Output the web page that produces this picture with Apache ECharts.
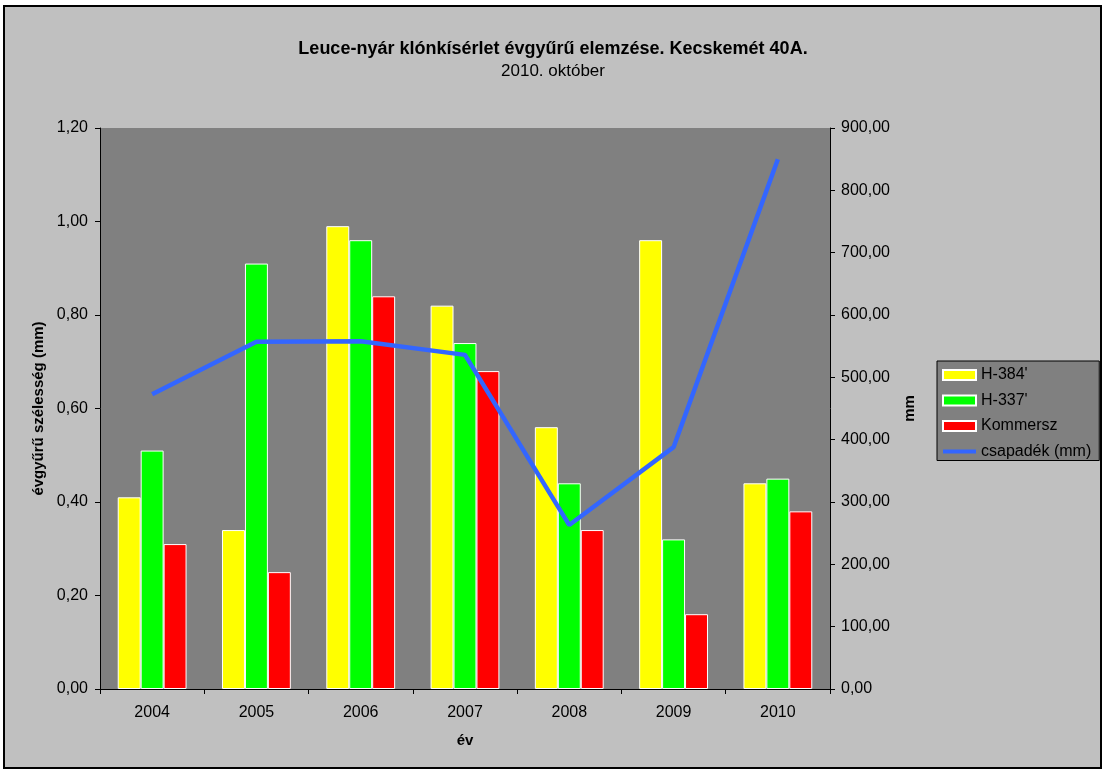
<!DOCTYPE html>
<html>
<head>
<meta charset="utf-8">
<script src="https://cdn.jsdelivr.net/npm/echarts@6/dist/echarts.min.js"></script>
<style>
  html, body { margin: 0; padding: 0; background: #fff; }
  #chart { width: 1106px; height: 773px; }
</style>
</head>
<body>
<div id="chart"></div>
<script>
let years = ['2004', '2005', '2006', '2007', '2008', '2009', '2010']
let h384 = [0.41, 0.34, 0.99, 0.82, 0.56, 0.96, 0.44]
let h337 = [0.51, 0.91, 0.96, 0.74, 0.44, 0.32, 0.45]
let kommersz = [0.31, 0.25, 0.84, 0.68, 0.34, 0.16, 0.38]
let csapadek = [473, 557, 558, 536, 263, 388, 850]

let font = '"Liberation Sans", Arial, sans-serif'
let fmt = function (v) { return v.toFixed(2).replace('.', ',') }

let bar = function (name, data, color) {
  return {
    name: name,
    type: 'bar',
    barGap: 0,
    barCategoryGap: '34%',
    data: data,
    itemStyle: { color: color, borderColor: '#fff', borderWidth: 1 }
  }
}

// legend icon for the line: thick stroke inside a 33x10 box
let lineIcon = 'path://M0,0 L0.01,0 Z M-1,3 L33,3 L33,7 L-1,7 Z M33,10 L32.99,10 Z'

let myChart = echarts.init(document.getElementById('chart'))
myChart.setOption({
  backgroundColor: '#fff',
  animation: false,
  textStyle: { fontFamily: font },
  graphic: [{
    type: 'rect',
    z: -10,
    shape: { x: 4, y: 6, width: 1097, height: 762 },
    style: { fill: '#c0c0c0', stroke: '#000', lineWidth: 2 }
  }],
  title: {
    text: 'Leuce-nyár klónkísérlet évgyűrű elemzése. Kecskemét 40A.',
    subtext: '2010. október',
    left: 548,
    textAlign: 'center',
    top: 35,
    itemGap: 5,
    textStyle: { fontSize: 18, fontWeight: 'bold', color: '#000', fontFamily: font },
    subtextStyle: { fontSize: 17, color: '#000', fontFamily: font }
  },
  legend: {
    orient: 'vertical',
    left: 937,
    top: 361,
    padding: [6, 8, 1, 5],
    backgroundColor: '#808080',
    borderColor: '#000',
    borderWidth: 1,
    borderRadius: 0,
    itemWidth: 33,
    itemHeight: 10,
    itemGap: 9.5,
    textStyle: { fontSize: 16, lineHeight: 14, color: '#000', fontFamily: font },
    data: [
      { name: "H-384'", icon: 'rect' },
      { name: "H-337'", icon: 'rect' },
      { name: 'Kommersz', icon: 'rect' },
      { name: 'csapadék (mm)', icon: lineIcon }
    ]
  },
  grid: {
    left: 100,
    right: 276,
    top: 128,
    bottom: 84,
    show: true,
    backgroundColor: '#808080',
    borderWidth: 0,
    containLabel: false
  },
  xAxis: {
    type: 'category',
    data: years,
    name: 'év',
    nameLocation: 'middle',
    nameGap: 44,
    nameTextStyle: { fontSize: 15, fontWeight: 'bold', color: '#000' },
    axisLine: { lineStyle: { color: '#000', width: 1 } },
    axisTick: { show: true, length: 5, lineStyle: { color: '#000' } },
    axisLabel: { fontSize: 16, color: '#000', margin: 16 }
  },
  yAxis: [{
    type: 'value',
    min: 0,
    max: 1.2,
    interval: 0.2,
    name: 'évgyűrű szélesség (mm)',
    nameLocation: 'middle',
    nameGap: 52,
    nameTextStyle: { fontSize: 15, fontWeight: 'bold', color: '#000' },
    axisLine: { show: true, lineStyle: { color: '#000', width: 1 } },
    axisTick: { show: true, length: 5, lineStyle: { color: '#000' } },
    axisLabel: { fontSize: 16, color: '#000', margin: 12, formatter: fmt },
    splitLine: { show: false }
  }, {
    type: 'value',
    min: 0,
    max: 900,
    interval: 100,
    name: 'mm',
    nameLocation: 'middle',
    nameGap: 72,
    nameTextStyle: { fontSize: 15, fontWeight: 'bold', color: '#000' },
    axisLine: { show: true, lineStyle: { color: '#000', width: 1 } },
    axisTick: { show: true, length: 5, lineStyle: { color: '#000' } },
    axisLabel: { fontSize: 16, color: '#000', margin: 11, formatter: fmt },
    splitLine: { show: false }
  }],
  series: [
    bar("H-384'", h384, '#ffff00'),
    bar("H-337'", h337, '#00ff00'),
    bar('Kommersz', kommersz, '#ff0000'),
    {
      name: 'csapadék (mm)',
      type: 'line',
      yAxisIndex: 1,
      data: csapadek,
      symbol: 'none',
      lineStyle: { color: '#3366ff', width: 4.5 },
      itemStyle: { color: '#3366ff' },
      z: 5
    }
  ]
})
</script>
</body>
</html>
